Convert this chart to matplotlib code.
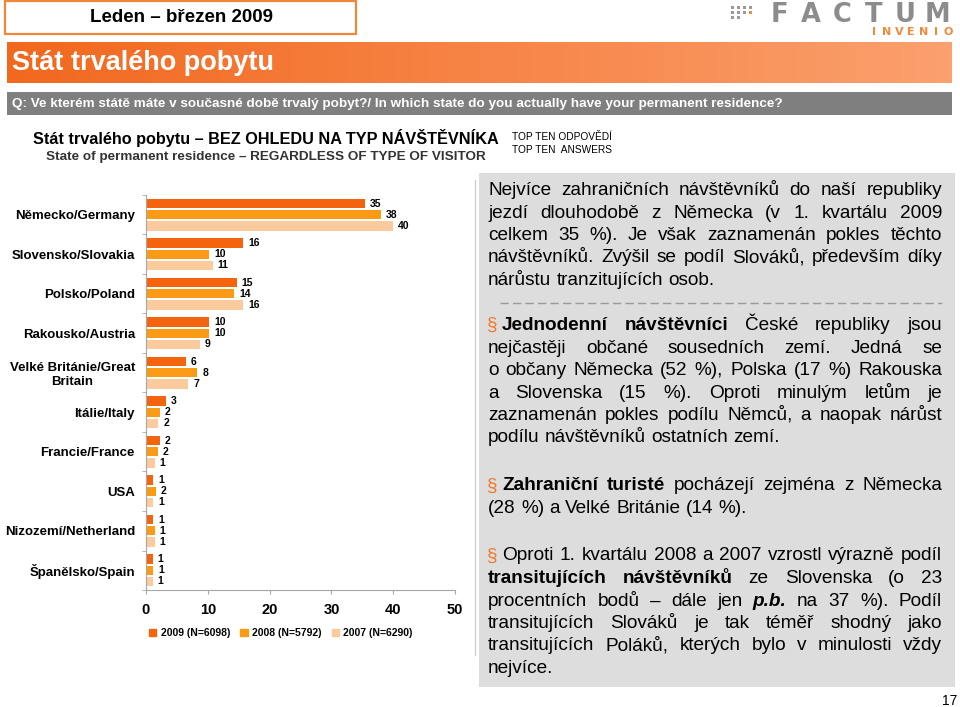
import numpy as np
import matplotlib
matplotlib.use('Agg')
import matplotlib.pyplot as plt
from matplotlib.patches import Rectangle, Patch
from matplotlib.lines import Line2D

plt.rcParams['font.family'] = ['Liberation Sans', 'DejaVu Sans']

W, H = 960, 707

# data (percent of visitors, top ten answers)
countries = ['Německo/Germany', 'Slovensko/Slovakia', 'Polsko/Poland',
             'Rakousko/Austria', 'Velké Británie/Great\nBritain', 'Itálie/Italy',
             'Francie/France', 'USA', 'Nizozemí/Netherland', 'Španělsko/Spain']
v2009 = [35.4, 15.7, 14.7, 10.2, 6.4, 3.2, 2.2, 1.2, 1.2, 1.1]
v2008 = [38.0, 10.2, 14.3, 10.2, 8.3, 2.2, 1.9, 1.6, 1.4, 1.2]
v2007 = [40.0, 10.8, 15.7, 8.7, 6.8, 2.0, 1.4, 1.2, 1.4, 1.1]
series_labels = ['2009 (N=6098)', '2008 (N=5792)', '2007 (N=6290)']
series_colors = ['#F4640F', '#FB9A14', '#FBCB9E']
x_ticks = [0, 10, 20, 30, 40, 50]

fig = plt.figure(figsize=(W / 100, H / 100), dpi=100)


def fx(px):
    return px / W


def fy(py):
    return 1 - py / H


# ---- slide header ----
fig.patches.append(Rectangle((fx(5), fy(34)), fx(351), 33 / H, transform=fig.transFigure,
                             facecolor='white', edgecolor='#F0883A', linewidth=1.6))
fig.text(fx(181), fy(18), 'Leden – březen 2009', ha='center', va='center',
         fontsize=13.5, fontweight='bold')

ax_b = fig.add_axes([fx(7), fy(83), fx(945), 41 / H])
c1 = np.array([242, 104, 30]) / 255
c2 = np.array([251, 160, 110]) / 255
t = np.linspace(0, 1, 256)[None, :, None]
ax_b.imshow(c1 + (c2 - c1) * t, aspect='auto', extent=(0, 1, 0, 1))
ax_b.axis('off')
fig.text(fx(12), fy(63), 'Stát trvalého pobytu', ha='left', va='center',
         fontsize=19.5, fontweight='bold', color='white')

fig.patches.append(Rectangle((fx(7), fy(115)), fx(945), 23 / H, transform=fig.transFigure,
                             facecolor='#7F7F7F', edgecolor='none'))
fig.text(fx(12), fy(103.5),
         'Q: Ve kterém státě máte v současné době trvalý pobyt?/ In which state do you actually have your permanent residence?',
         ha='left', va='center', fontsize=9.7, fontweight='bold', color='white')

# logo
for r in range(3):
    for c in range(4):
        col = '#F08A3C' if (r, c) == (1, 3) else '#9A9A9A'
        if r == 2 and c > 1:
            continue
        fig.patches.append(Rectangle((fx(731 + c * 6), fy(9 + r * 5)), 3 / W, 3 / H,
                                     transform=fig.transFigure, facecolor=col, edgecolor='none'))
for i, ch in enumerate('FACTUM'):
    fig.text(fx(779 + i * 31.6), fy(22), ch, ha='center', va='baseline', fontsize=18.5,
             color='#8C8C8C', family='DejaVu Sans', fontweight='bold')
for i, ch in enumerate('INVENIO'):
    fig.text(fx(874 + i * 12.4), fy(35), ch, ha='center', va='baseline', fontsize=8,
             color='#F08A3C', family='DejaVu Sans', fontweight='bold')

# ---- chart titles ----
fig.text(fx(266), fy(138), 'Stát trvalého pobytu – BEZ OHLEDU NA TYP NÁVŠTĚVNÍKA',
         ha='center', va='center', fontsize=11.7, fontweight='bold')
fig.text(fx(266), fy(157), 'State of permanent residence – REGARDLESS OF TYPE OF VISITOR',
         ha='center', va='center', fontsize=9.7, fontweight='bold', color='#333333')
fig.text(fx(512), fy(137), 'TOP TEN ODPOVĚDÍ', ha='left', va='center', fontsize=7.3)
fig.text(fx(512), fy(150), 'TOP TEN  ANSWERS', ha='left', va='center', fontsize=7.3)

# ---- bar chart ----
ax = fig.add_axes([fx(146), fy(590), fx(309), 395 / H])
pos = np.arange(len(countries))
offsets = [-0.28, 0.0, 0.28]
for vals, off, col, lab in zip([v2009, v2008, v2007], offsets, series_colors, series_labels):
    bars = ax.barh(pos + off, vals, height=0.24, color=col, label=lab)
    for b, v in zip(bars, vals):
        ax.annotate(f'{v:.0f}', (b.get_width(), b.get_y() + b.get_height() / 2),
                    xytext=(5, 0), textcoords='offset pixels', ha='left', va='center',
                    fontsize=7.5, fontweight='bold')

ax.set_xlim(0, 50)
ax.set_ylim(len(countries) - 0.5, -0.5)
ax.set_xticks(x_ticks)
ax.set_xticklabels([str(x) for x in x_ticks], fontsize=10.5, fontweight='bold')
ax.set_yticks(pos)
ax.set_yticklabels(countries, fontsize=9.5, fontweight='bold')
for lbl in ax.get_yticklabels():
    lbl.set_multialignment('center')
ax.set_yticks(np.arange(len(countries) + 1) - 0.5, minor=True)
ax.tick_params(axis='y', which='major', length=0, pad=8)
ax.tick_params(axis='y', which='minor', length=3, color='#A6A6A6')
ax.tick_params(axis='x', length=3, color='#A6A6A6', pad=6)
for s in ['top', 'right']:
    ax.spines[s].set_visible(False)
for s in ['left', 'bottom']:
    ax.spines[s].set_color('#A6A6A6')

handles = [Patch(color=c, label=l) for c, l in zip(series_colors, series_labels)]
ax.legend(handles=handles, loc='center left', bbox_to_anchor=(-0.02, -0.11), ncol=3,
          frameon=False, handlelength=0.7, handleheight=0.7, handletextpad=0.4,
          columnspacing=1.0, prop={'size': 7.5, 'weight': 'bold'})

fig.add_artist(Line2D([fx(475), fx(475)], [fy(180), fy(655)], color='#D0D0D0', lw=1))

# ---- commentary panel ----
fig.patches.append(Rectangle((fx(479), fy(687)), fx(476), 514 / H, transform=fig.transFigure,
                             facecolor='#DDDDDD', edgecolor='none'))

FS = 13.7
N = {}
B = {'fontweight': 'bold'}
BI = {'fontweight': 'bold', 'fontstyle': 'italic'}
renderer = fig.canvas.get_renderer()


def put_line(base, runs, x0=488, x1=942, justify=True):
    arts = []
    for txt, kw in runs:
        for w in txt.split():
            arts.append(fig.text(0, fy(base), w, ha='left', va='baseline', fontsize=FS, **kw))
    widths = [a.get_window_extent(renderer).width for a in arts]
    if justify and len(arts) > 1:
        gap = (x1 - x0 - sum(widths)) / (len(arts) - 1)
    else:
        gap = FS * 100 / 72 * 0.278
    x = x0
    for a, w in zip(arts, widths):
        a.set_x(fx(x))
        x += w + gap


def bullet(base):
    fig.text(fx(487), fy(base), '§', ha='left', va='baseline', fontsize=FS, color='#F07A2A')


put_line(195, [('Nejvíce zahraničních návštěvníků do naší republiky', N)])
put_line(217.5, [('jezdí dlouhodobě z Německa (v 1. kvartálu 2009', N)])
put_line(240, [('celkem 35 %). Je však zaznamenán pokles těchto', N)])
put_line(262.5, [('návštěvníků. Zvýšil se podíl Slováků, především díky', N)])
put_line(285, [('nárůstu tranzitujících osob.', N)], justify=False)

fig.add_artist(Line2D([fx(500), fx(942)], [fy(303), fy(303)], color='#9A9A9A', lw=1,
                      dashes=(6, 3)))

bullet(330)
put_line(330, [('Jednodenní návštěvníci', B), ('České republiky jsou', N)], x0=502)
put_line(352.5, [('nejčastěji občané sousedních zemí. Jedná se', N)])
put_line(375, [('o občany Německa (52 %), Polska (17 %) Rakouska', N)])
put_line(397.5, [('a Slovenska (15 %). Oproti minulým letům je', N)])
put_line(420, [('zaznamenán pokles podílu Němců, a naopak nárůst', N)])
put_line(442.5, [('podílu návštěvníků ostatních zemí.', N)], justify=False)

bullet(490.5)
put_line(490.5, [('Zahraniční turisté', B), ('pocházejí zejména z Německa', N)], x0=502)
put_line(513, [('(28 %) a Velké Británie (14 %).', N)], justify=False)

bullet(560.5)
put_line(560.5, [('Oproti 1. kvartálu 2008 a 2007 vzrostl výrazně podíl', N)], x0=502)
put_line(583, [('transitujících návštěvníků', B), ('ze Slovenska (o 23', N)])
put_line(605.5, [('procentních bodů – dále jen', N), ('p.b.', BI), ('na 37 %). Podíl', N)])
put_line(628, [('transitujících Slováků je tak téměř shodný jako', N)])
put_line(650.5, [('transitujících Poláků, kterých bylo v minulosti vždy', N)])
put_line(673, [('nejvíce.', N)], justify=False)

fig.text(fx(957), fy(701), '17', ha='right', va='center', fontsize=10)

fig.savefig('out.png', dpi=100)
